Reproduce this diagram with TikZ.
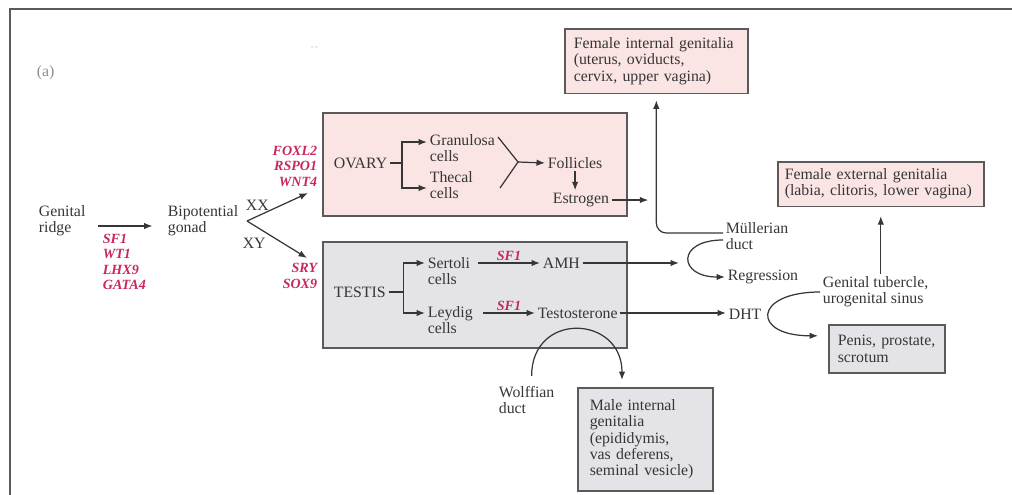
\documentclass[tikz,border=0pt]{standalone}
\usepackage{fontspec}
\setmainfont{Liberation Serif}
\usetikzlibrary{arrows.meta,calc}
\definecolor{genered}{HTML}{C8285A}
\definecolor{pinkfill}{HTML}{FBE4E4}
\definecolor{greyfill}{HTML}{E4E4E8}
\definecolor{edge}{HTML}{5A5A5A}
\definecolor{ink}{HTML}{363636}

\begin{document}
\begin{tikzpicture}[
  x=0.2mm, y=-0.2mm,
  font=\fontsize{9}{9.2}\selectfont, text=ink,
  lab/.style={align=left, inner sep=0.5mm, anchor=west},
  gene/.style={lab, text=genered, font=\fontsize{8}{8.8}\selectfont\bfseries\itshape},
  organ/.style={draw=edge, line width=0.9pt, minimum width=60.8mm},
  outbox/.style={draw=edge, line width=0.9pt, align=left, inner sep=1.8mm, anchor=north west},
  arr/.style={-{Latex[length=1.7mm,width=1.3mm]}, line width=0.7pt, draw=ink},
  link/.style={line width=0.7pt, draw=ink}
]
\useasboundingbox (0,0) rectangle (1012,494);
% ----- page frame (top and left edge only) -----
\draw[edge, line width=1pt] (1020,9) -- (10,9) -- (10,500);
\node[lab, text=black!45] (tag) at (34,73) {(a)};
\node[lab, text=black!30, font=\tiny] (dots) at (308,48) {-\,-};

% ----- organ boxes -----
\node[organ, fill=pinkfill, minimum height=20.6mm] (ovbox) at (475,164.5) {};
\node[organ, fill=greyfill, minimum height=21.2mm] (tbox)  at (475,295) {};

% ----- gonad -----
\node[lab] (gridge) at (36,221) {Genital\\ridge};
\node[gene, anchor=north west] (genes1) at (100,231) {SF1\\WT1\\LHX9\\GATA4};
\node[lab] (bip) at (165,221) {Bipotential\\gonad};
\draw[arr] ([xshift=2mm,yshift=-1mm]gridge.east) -- ([xshift=-2.5mm,yshift=-1mm]bip.west);
\coordinate (xxend) at (308,193);
\coordinate (xyend) at (307,258);
\draw[arr] ([xshift=1.2mm]bip.east) -- node[lab, anchor=south, pos=0.17, yshift=0.5mm]{XX} (xxend);
\draw[arr] ([xshift=1.2mm]bip.east) -- node[lab, anchor=north, pos=0.12, yshift=-2mm]{XY} (xyend);
\node[gene, anchor=east, align=right] (genes2) at (320,166) {FOXL2\\RSPO1\\WNT4};
\node[gene, anchor=east, align=right] (genes3) at (320,276) {SRY\\SOX9};

% ----- ovary -----
\node[lab] (ovary) at (331,163) {OVARY};
\node[lab] (gran)  at (427,148) {Granulosa\\cells};
\node[lab] (thec)  at (427,185) {Thecal\\cells};
\node[lab] (foll)  at (545,163) {Follicles};
\node[lab] (estr)  at (550,200) {Estrogen};
\draw[arr] (ovary.east) -- ++(2.4mm,0) |- ([yshift=1.2mm]gran.west);
\draw[arr] (ovary.east) ++(2.4mm,0) |- ([yshift=-0.6mm]thec.west);
\coordinate (yup)    at (498,137);
\coordinate (ylow)   at (500,188);
\coordinate (ymerge) at (518,162);
\draw[link] (yup) -- (ymerge) -- (ylow);
\draw[arr] (ymerge) -- (foll.west);
\draw[arr] (foll.south) -- (foll.south |- estr.north);

% ----- testis -----
\node[lab] (testis) at (331,292) {TESTIS};
\node[lab] (sert)   at (425,271) {Sertoli\\cells};
\node[lab] (leyd)   at (425,320) {Leydig\\cells};
\node[lab] (amh)    at (540,263) {AMH};
\node[lab] (test)   at (535,313) {Testosterone};
\draw[arr] (testis.east) -- ++(3mm,0) |- (sert.west |- amh.west);
\draw[arr] (testis.east) ++(3mm,0) |- (leyd.west |- test.west);
\draw[arr] ([xshift=1mm]sert.east |- amh.west) -- node[gene, anchor=south, inner sep=0.3mm]{SF1} (amh.west);
\draw[arr] ([xshift=1.5mm]leyd.east |- test.west) -- node[gene, anchor=south, inner sep=0.3mm]{SF1} (test.west);

% ----- ducts and targets -----
\node[outbox, fill=pinkfill, text width=33mm, minimum height=12.6mm] (fint) at (564,28)
  {Female internal genitalia\\(uterus, oviducts,\\cervix, upper vagina)};
\node[outbox, fill=pinkfill, text width=38.4mm, minimum height=8.6mm, inner sep=1.4mm] (fext) at (777,161)
  {Female external genitalia\\(labia, clitoris, lower vagina)};
\node[outbox, fill=greyfill, text width=19.6mm, minimum height=9.6mm] (pps) at (828,324)
  {Penis, prostate,\\scrotum};
\node[outbox, fill=greyfill, text width=22.2mm, minimum height=18mm, inner sep=2.4mm] (mint) at (577,387)
  {Male internal\\genitalia\\(epididymis,\\vas deferens,\\seminal vesicle)};
\node[lab] (mull) at (723,236) {Müllerian\\duct};
\node[lab] (regr) at (725,277) {Regression};
\node[lab] (dht)  at (726,314) {DHT};
\node[lab] (gtub) at (820,292) {Genital tubercle,\\urogenital sinus};
\node[lab] (wolf) at (496,400) {Wolffian\\duct};

\draw[arr, rounded corners=2mm] ([yshift=0.6mm]mull.west) -| ([yshift=-1.2mm]fint.south);
\draw[arr] (estr.east) -- ($(estr.east -| fint.south)+(-8,0)$);
\draw[arr] ([yshift=-0.8mm]mull.west) .. controls +(-47,0) and +(-47,0) .. (regr.west);
\draw[arr] (amh.east) -- ($(mull.west |- amh.east)+(-44,0)$);
\draw[arr] (test.east) -- (dht.west |- test.east);
\draw[arr] (gtub.west) .. controls +(-67,0) and +(-67,0) .. ([xshift=-2mm,yshift=2.6mm]pps.west);
\draw[arr] (fext.south |- gtub.north) -- ([yshift=-1.8mm]fext.south);
\draw[arr] ([xshift=1mm,yshift=1.5mm]wolf.north) .. controls +(0,-65) and +(0,-65) .. ([xshift=9mm,yshift=1.4mm]mint.north west);
\end{tikzpicture}
\end{document}
